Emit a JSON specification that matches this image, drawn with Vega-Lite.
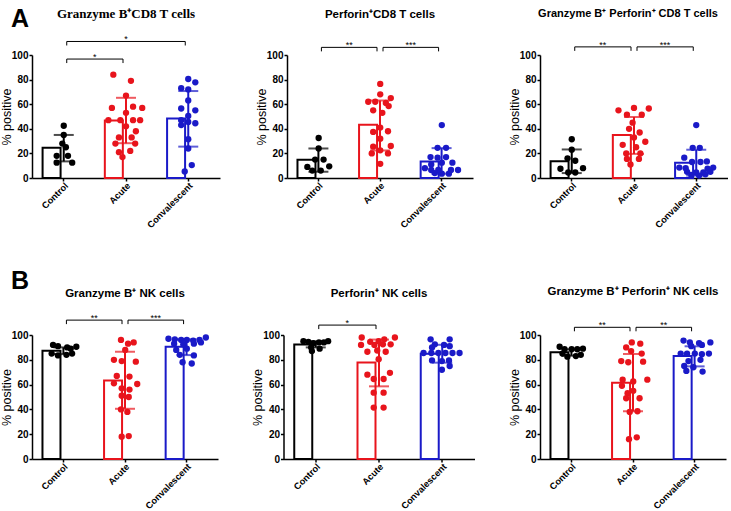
{
  "$schema": "https://vega.github.io/schema/vega-lite/v6.json",
  "padding": {"left": 0, "top": 6, "right": 0, "bottom": 0},
  "spacing": 38,
  "config": {
    "view": {"stroke": null},
    "font": "Liberation Sans",
    "axis": {"grid": false, "domainColor": "black", "domainWidth": 1.5, "tickColor": "black", "tickWidth": 1.5, "tickSize": 3, "labelColor": "black", "labelFont": "Liberation Sans Narrow, Liberation Sans", "labelFontWeight": "bold", "labelFontSize": 10, "labelPadding": 1, "titleColor": "black", "titleFont": "Liberation Sans", "titleFontWeight": "normal", "titleFontSize": 12.5, "titlePadding": 1},
    "axisX": {"labelAngle": -45, "labelFontSize": 9.2, "labelPadding": 0},
    "axisY": {"tickCount": 6, "labelOverlap": false, "minExtent": 18, "maxExtent": 18},
    "title": {"font": "Liberation Sans", "fontWeight": "bold", "fontSize": 11.5, "color": "black", "anchor": "middle", "offset": 14, "frame": "group"}
  },
  "datasets": {
    "sum": [
      {"p": 1, "g": "Control", "m": 24.5, "lo": 13.5, "hi": 35},
      {"p": 1, "g": "Acute", "m": 46.7, "lo": 28.3, "hi": 65.2},
      {"p": 1, "g": "Convalescent", "m": 48.4, "lo": 25.5, "hi": 70.7},
      {"p": 2, "g": "Control", "m": 14.9, "lo": 5.1, "hi": 24},
      {"p": 2, "g": "Acute", "m": 43.2, "lo": 22.4, "hi": 63},
      {"p": 2, "g": "Convalescent", "m": 13.5, "lo": 3.5, "hi": 24.3},
      {"p": 3, "g": "Control", "m": 13.6, "lo": 4, "hi": 23.2},
      {"p": 3, "g": "Acute", "m": 35, "lo": 19.6, "hi": 49.6},
      {"p": 3, "g": "Convalescent", "m": 12.5, "lo": 2, "hi": 23},
      {"p": 4, "g": "Control", "m": 87.3, "lo": 84.6, "hi": 90},
      {"p": 4, "g": "Acute", "m": 63.3, "lo": 40.5, "hi": 86.5},
      {"p": 4, "g": "Convalescent", "m": 90.5, "lo": 83.8, "hi": 96.5},
      {"p": 5, "g": "Control", "m": 92.3, "lo": 90, "hi": 94.8},
      {"p": 5, "g": "Acute", "m": 77.8, "lo": 58.6, "hi": 96.3},
      {"p": 5, "g": "Convalescent", "m": 84.8, "lo": 77.7, "hi": 92.1},
      {"p": 6, "g": "Control", "m": 86, "lo": 83.3, "hi": 88.5},
      {"p": 6, "g": "Acute", "m": 61.5, "lo": 38.5, "hi": 84.7},
      {"p": 6, "g": "Convalescent", "m": 83, "lo": 74.7, "hi": 90.9}
    ],
    "br": [
      {"p": 1, "a": "Control", "b": "Acute", "y": 96.7, "s": "*", "m": "Control", "k": 1},
      {"p": 1, "a": "Control", "b": "Convalescent", "y": 111, "s": "*", "m": "Acute", "k": 0},
      {"p": 2, "a": "Control", "b": "Acute", "y": 106.2, "s": "**", "m": "Control", "k": 1},
      {"p": 2, "a": "Acute", "b": "Convalescent", "y": 106.2, "s": "***", "m": "Acute", "k": 1},
      {"p": 3, "a": "Control", "b": "Acute", "y": 106.6, "s": "**", "m": "Control", "k": 1},
      {"p": 3, "a": "Acute", "b": "Convalescent", "y": 106.6, "s": "***", "m": "Acute", "k": 1},
      {"p": 4, "a": "Control", "b": "Acute", "y": 112, "s": "**", "m": "Control", "k": 1},
      {"p": 4, "a": "Acute", "b": "Convalescent", "y": 112, "s": "***", "m": "Acute", "k": 1},
      {"p": 5, "a": "Control", "b": "Acute", "y": 108, "s": "*", "m": "Control", "k": 1},
      {"p": 6, "a": "Control", "b": "Acute", "y": 106.2, "s": "**", "m": "Control", "k": 1},
      {"p": 6, "a": "Acute", "b": "Convalescent", "y": 106.2, "s": "**", "m": "Acute", "k": 1}
    ],
    "pts": [
      {"p":1,"g":"Control","v":42.5,"c":0},{"p":1,"g":"Control","v":35,"c":0},{"p":1,"g":"Control","v":28,"c":-0.2},{"p":1,"g":"Control","v":25,"c":0.3},{"p":1,"g":"Control","v":18,"c":-1},{"p":1,"g":"Control","v":18,"c":0.6},{"p":1,"g":"Control","v":12.5,"c":-1},{"p":1,"g":"Control","v":12.5,"c":1.2},
      {"p":1,"g":"Acute","v":84,"c":-1.8},{"p":1,"g":"Acute","v":79,"c":0.7},{"p":1,"g":"Acute","v":67,"c":0},{"p":1,"g":"Acute","v":57,"c":-2},{"p":1,"g":"Acute","v":58,"c":1},{"p":1,"g":"Acute","v":57,"c":2.3},{"p":1,"g":"Acute","v":53,"c":0},{"p":1,"g":"Acute","v":47,"c":-2.5},{"p":1,"g":"Acute","v":47,"c":-0.8},{"p":1,"g":"Acute","v":47,"c":1},{"p":1,"g":"Acute","v":47,"c":2},{"p":1,"g":"Acute","v":42,"c":0},{"p":1,"g":"Acute","v":38,"c":1.4},{"p":1,"g":"Acute","v":33,"c":-1},{"p":1,"g":"Acute","v":33,"c":0.8},{"p":1,"g":"Acute","v":28,"c":-1.5},{"p":1,"g":"Acute","v":28,"c":1.3},{"p":1,"g":"Acute","v":22,"c":0.6},{"p":1,"g":"Acute","v":21,"c":-1},{"p":1,"g":"Acute","v":17,"c":-0.5},
      {"p":1,"g":"Convalescent","v":80.5,"c":0},{"p":1,"g":"Convalescent","v":77.8,"c":1},{"p":1,"g":"Convalescent","v":73,"c":-1},{"p":1,"g":"Convalescent","v":72,"c":0},{"p":1,"g":"Convalescent","v":63,"c":0},{"p":1,"g":"Convalescent","v":56.5,"c":-1},{"p":1,"g":"Convalescent","v":55,"c":1},{"p":1,"g":"Convalescent","v":50.5,"c":0},{"p":1,"g":"Convalescent","v":47,"c":-1},{"p":1,"g":"Convalescent","v":43,"c":-1},{"p":1,"g":"Convalescent","v":45.5,"c":0},{"p":1,"g":"Convalescent","v":44.5,"c":1},{"p":1,"g":"Convalescent","v":31.5,"c":0},{"p":1,"g":"Convalescent","v":24,"c":0},{"p":1,"g":"Convalescent","v":10.5,"c":0.5},{"p":1,"g":"Convalescent","v":5.3,"c":-0.5},
      {"p":2,"g":"Control","v":32.5,"c":0},{"p":2,"g":"Control","v":24,"c":0},{"p":2,"g":"Control","v":15,"c":-0.5},{"p":2,"g":"Control","v":15,"c":0.7},{"p":2,"g":"Control","v":9,"c":-1.6},{"p":2,"g":"Control","v":9.5,"c":1.5},{"p":2,"g":"Control","v":6,"c":-0.9},{"p":2,"g":"Control","v":6,"c":0.3},
      {"p":2,"g":"Acute","v":76.5,"c":0},{"p":2,"g":"Acute","v":68,"c":0},{"p":2,"g":"Acute","v":65,"c":1.5},{"p":2,"g":"Acute","v":62,"c":-1.7},{"p":2,"g":"Acute","v":62,"c":-0.7},{"p":2,"g":"Acute","v":61,"c":0.8},{"p":2,"g":"Acute","v":58.5,"c":1.2},{"p":2,"g":"Acute","v":55,"c":-1},{"p":2,"g":"Acute","v":53,"c":0.3},{"p":2,"g":"Acute","v":41,"c":0},{"p":2,"g":"Acute","v":37.5,"c":-1},{"p":2,"g":"Acute","v":38,"c":1.1},{"p":2,"g":"Acute","v":32,"c":0},{"p":2,"g":"Acute","v":25.5,"c":-1},{"p":2,"g":"Acute","v":26,"c":1.5},{"p":2,"g":"Acute","v":22.5,"c":0},{"p":2,"g":"Acute","v":20,"c":-1.2},{"p":2,"g":"Acute","v":20,"c":1.1},{"p":2,"g":"Acute","v":11.5,"c":0},
      {"p":2,"g":"Convalescent","v":43,"c":0},{"p":2,"g":"Convalescent","v":24.5,"c":-0.6},{"p":2,"g":"Convalescent","v":24.5,"c":0.6},{"p":2,"g":"Convalescent","v":17,"c":-1.6},{"p":2,"g":"Convalescent","v":16.5,"c":-0.6},{"p":2,"g":"Convalescent","v":17,"c":0.6},{"p":2,"g":"Convalescent","v":12.5,"c":0},{"p":2,"g":"Convalescent","v":12.5,"c":1.5},{"p":2,"g":"Convalescent","v":8,"c":-2.4},{"p":2,"g":"Convalescent","v":6.5,"c":-1.5},{"p":2,"g":"Convalescent","v":6.5,"c":-0.5},{"p":2,"g":"Convalescent","v":6.5,"c":1.3},{"p":2,"g":"Convalescent","v":6.5,"c":2.3},{"p":2,"g":"Convalescent","v":4,"c":-1},{"p":2,"g":"Convalescent","v":3.5,"c":0},{"p":2,"g":"Convalescent","v":3.5,"c":1},{"p":2,"g":"Convalescent","v":11,"c":-1.5},
      {"p":3,"g":"Control","v":31.5,"c":0},{"p":3,"g":"Control","v":23,"c":0},{"p":3,"g":"Control","v":16,"c":-0.6},{"p":3,"g":"Control","v":14,"c":0.5},{"p":3,"g":"Control","v":7.5,"c":-1.6},{"p":3,"g":"Control","v":8,"c":1.6},{"p":3,"g":"Control","v":4.5,"c":-0.5},{"p":3,"g":"Control","v":4.5,"c":0.5},
      {"p":3,"g":"Acute","v":57,"c":0},{"p":3,"g":"Acute","v":55,"c":-2.2},{"p":3,"g":"Acute","v":56.5,"c":2.1},{"p":3,"g":"Acute","v":51.5,"c":-1},{"p":3,"g":"Acute","v":51.5,"c":1.1},{"p":3,"g":"Acute","v":45,"c":-0.2},{"p":3,"g":"Acute","v":40,"c":-0.7},{"p":3,"g":"Acute","v":37,"c":0.8},{"p":3,"g":"Acute","v":33,"c":0},{"p":3,"g":"Acute","v":27,"c":-1.6},{"p":3,"g":"Acute","v":29.5,"c":1.6},{"p":3,"g":"Acute","v":25,"c":0.3},{"p":3,"g":"Acute","v":20,"c":-1.1},{"p":3,"g":"Acute","v":20,"c":0.9},{"p":3,"g":"Acute","v":15.5,"c":-1},{"p":3,"g":"Acute","v":15.5,"c":0.7},{"p":3,"g":"Acute","v":11,"c":-0.5},
      {"p":3,"g":"Convalescent","v":43,"c":0},{"p":3,"g":"Convalescent","v":24.5,"c":-0.5},{"p":3,"g":"Convalescent","v":24.5,"c":0.5},{"p":3,"g":"Convalescent","v":16.5,"c":-1.7},{"p":3,"g":"Convalescent","v":13,"c":-0.6},{"p":3,"g":"Convalescent","v":13,"c":0.6},{"p":3,"g":"Convalescent","v":13.5,"c":1.5},{"p":3,"g":"Convalescent","v":8.5,"c":-2.4},{"p":3,"g":"Convalescent","v":8,"c":-1.5},{"p":3,"g":"Convalescent","v":8.5,"c":2.4},{"p":3,"g":"Convalescent","v":7.5,"c":1.6},{"p":3,"g":"Convalescent","v":5,"c":-1.3},{"p":3,"g":"Convalescent","v":4.5,"c":0},{"p":3,"g":"Convalescent","v":4.5,"c":1},{"p":3,"g":"Convalescent","v":5,"c":2},{"p":3,"g":"Convalescent","v":2.5,"c":-0.7},{"p":3,"g":"Convalescent","v":2,"c":0.4},{"p":3,"g":"Convalescent","v":3,"c":1.3},
      {"p":4,"g":"Control","v":92,"c":-1.5},{"p":4,"g":"Control","v":91,"c":-0.8},{"p":4,"g":"Control","v":90,"c":0.5},{"p":4,"g":"Control","v":89,"c":1},{"p":4,"g":"Control","v":90.5,"c":1.8},{"p":4,"g":"Control","v":85,"c":-1.7},{"p":4,"g":"Control","v":83.5,"c":-0.8},{"p":4,"g":"Control","v":84,"c":0.4},{"p":4,"g":"Control","v":85,"c":1.2},
      {"p":4,"g":"Acute","v":96,"c":-0.6},{"p":4,"g":"Acute","v":94,"c":1.2},{"p":4,"g":"Acute","v":93,"c":0.4},{"p":4,"g":"Acute","v":88,"c":0},{"p":4,"g":"Acute","v":80,"c":-1.6},{"p":4,"g":"Acute","v":79,"c":-0.5},{"p":4,"g":"Acute","v":78.5,"c":1.5},{"p":4,"g":"Acute","v":67,"c":-1.2},{"p":4,"g":"Acute","v":66.5,"c":0.6},{"p":4,"g":"Acute","v":61,"c":-1.6},{"p":4,"g":"Acute","v":60.5,"c":1.7},{"p":4,"g":"Acute","v":57,"c":-0.5},{"p":4,"g":"Acute","v":56,"c":0.6},{"p":4,"g":"Acute","v":51,"c":-0.5},{"p":4,"g":"Acute","v":50,"c":0.5},{"p":4,"g":"Acute","v":38,"c":0.3},{"p":4,"g":"Acute","v":40,"c":-0.6},{"p":4,"g":"Acute","v":18,"c":-0.5},{"p":4,"g":"Acute","v":18.5,"c":0.5},
      {"p":4,"g":"Convalescent","v":97,"c":-2.6},{"p":4,"g":"Convalescent","v":96.5,"c":-1.7},{"p":4,"g":"Convalescent","v":96,"c":-0.8},{"p":4,"g":"Convalescent","v":96,"c":0},{"p":4,"g":"Convalescent","v":95.5,"c":0.9},{"p":4,"g":"Convalescent","v":96,"c":1.8},{"p":4,"g":"Convalescent","v":98,"c":2.7},{"p":4,"g":"Convalescent","v":93,"c":-1.8},{"p":4,"g":"Convalescent","v":92.5,"c":-0.5},{"p":4,"g":"Convalescent","v":93,"c":1},{"p":4,"g":"Convalescent","v":94,"c":2},{"p":4,"g":"Convalescent","v":89,"c":0},{"p":4,"g":"Convalescent","v":84,"c":-1},{"p":4,"g":"Convalescent","v":83.5,"c":1},{"p":4,"g":"Convalescent","v":78,"c":-0.6},{"p":4,"g":"Convalescent","v":77,"c":0.7},{"p":4,"g":"Convalescent","v":88,"c":-1.5},
      {"p":5,"g":"Control","v":95,"c":-1.7},{"p":5,"g":"Control","v":94.5,"c":-1},{"p":5,"g":"Control","v":93.5,"c":-0.3},{"p":5,"g":"Control","v":94,"c":0.5},{"p":5,"g":"Control","v":94,"c":1.2},{"p":5,"g":"Control","v":95,"c":1.8},{"p":5,"g":"Control","v":90,"c":-0.6},{"p":5,"g":"Control","v":89,"c":0.6},{"p":5,"g":"Control","v":87,"c":-0.5},
      {"p":5,"g":"Acute","v":98,"c":-2.4},{"p":5,"g":"Acute","v":96.5,"c":0.8},{"p":5,"g":"Acute","v":98,"c":2.3},{"p":5,"g":"Acute","v":94.5,"c":-1.2},{"p":5,"g":"Acute","v":95,"c":0},{"p":5,"g":"Acute","v":92,"c":-2.5},{"p":5,"g":"Acute","v":92.5,"c":1.7},{"p":5,"g":"Acute","v":92,"c":-0.6},{"p":5,"g":"Acute","v":92.5,"c":0.6},{"p":5,"g":"Acute","v":86.5,"c":-1.6},{"p":5,"g":"Acute","v":87.5,"c":-0.2},{"p":5,"g":"Acute","v":86.5,"c":1},{"p":5,"g":"Acute","v":80.5,"c":0},{"p":5,"g":"Acute","v":68,"c":-1.6},{"p":5,"g":"Acute","v":69.5,"c":1.6},{"p":5,"g":"Acute","v":64.5,"c":-0.7},{"p":5,"g":"Acute","v":64.5,"c":0.7},{"p":5,"g":"Acute","v":53.5,"c":-0.7},{"p":5,"g":"Acute","v":53.5,"c":0.7},{"p":5,"g":"Acute","v":41.5,"c":-0.7},{"p":5,"g":"Acute","v":41.5,"c":0.7},
      {"p":5,"g":"Convalescent","v":96.5,"c":-1.6},{"p":5,"g":"Convalescent","v":96.5,"c":1.1},{"p":5,"g":"Convalescent","v":92.5,"c":-1},{"p":5,"g":"Convalescent","v":92,"c":0.3},{"p":5,"g":"Convalescent","v":91,"c":1.1},{"p":5,"g":"Convalescent","v":90,"c":-1.4},{"p":5,"g":"Convalescent","v":85.5,"c":-2.6},{"p":5,"g":"Convalescent","v":85.5,"c":-1.5},{"p":5,"g":"Convalescent","v":85.5,"c":-0.5},{"p":5,"g":"Convalescent","v":85.5,"c":0.5},{"p":5,"g":"Convalescent","v":85.5,"c":1.5},{"p":5,"g":"Convalescent","v":85.5,"c":2.5},{"p":5,"g":"Convalescent","v":79.5,"c":-1.4},{"p":5,"g":"Convalescent","v":79,"c":0},{"p":5,"g":"Convalescent","v":79.5,"c":1},{"p":5,"g":"Convalescent","v":75,"c":1.1},{"p":5,"g":"Convalescent","v":72,"c":0},
      {"p":6,"g":"Control","v":90.5,"c":-1.7},{"p":6,"g":"Control","v":88.5,"c":-1},{"p":6,"g":"Control","v":88.5,"c":0},{"p":6,"g":"Control","v":88.5,"c":0.8},{"p":6,"g":"Control","v":89,"c":1.6},{"p":6,"g":"Control","v":85,"c":-1.3},{"p":6,"g":"Control","v":82.5,"c":-0.6},{"p":6,"g":"Control","v":83,"c":0.6},{"p":6,"g":"Control","v":84,"c":1.3},
      {"p":6,"g":"Acute","v":94,"c":-0.2},{"p":6,"g":"Acute","v":93,"c":1},{"p":6,"g":"Acute","v":90,"c":-1},{"p":6,"g":"Acute","v":87,"c":-0.3},{"p":6,"g":"Acute","v":85,"c":1.2},{"p":6,"g":"Acute","v":79,"c":-1.7},{"p":6,"g":"Acute","v":78,"c":-0.7},{"p":6,"g":"Acute","v":78.5,"c":1.4},{"p":6,"g":"Acute","v":64,"c":-1.5},{"p":6,"g":"Acute","v":62.5,"c":0},{"p":6,"g":"Acute","v":64,"c":2},{"p":6,"g":"Acute","v":59,"c":-1.6},{"p":6,"g":"Acute","v":55,"c":0},{"p":6,"g":"Acute","v":53,"c":-0.8},{"p":6,"g":"Acute","v":49,"c":-1},{"p":6,"g":"Acute","v":49,"c":0.9},{"p":6,"g":"Acute","v":38,"c":-0.5},{"p":6,"g":"Acute","v":38.5,"c":0.6},{"p":6,"g":"Acute","v":16,"c":-0.6},{"p":6,"g":"Acute","v":17.5,"c":0.5},
      {"p":6,"g":"Convalescent","v":95.5,"c":-1.6},{"p":6,"g":"Convalescent","v":94,"c":-0.7},{"p":6,"g":"Convalescent","v":93.5,"c":0.6},{"p":6,"g":"Convalescent","v":94,"c":2.2},{"p":6,"g":"Convalescent","v":91,"c":-0.5},{"p":6,"g":"Convalescent","v":92,"c":1},{"p":6,"g":"Convalescent","v":85,"c":-2},{"p":6,"g":"Convalescent","v":85,"c":-1.1},{"p":6,"g":"Convalescent","v":85,"c":0},{"p":6,"g":"Convalescent","v":84.5,"c":1},{"p":6,"g":"Convalescent","v":85,"c":2},{"p":6,"g":"Convalescent","v":79,"c":-0.9},{"p":6,"g":"Convalescent","v":80,"c":0.8},{"p":6,"g":"Convalescent","v":75,"c":-1.5},{"p":6,"g":"Convalescent","v":74,"c":-0.2},{"p":6,"g":"Convalescent","v":71,"c":-1.2},{"p":6,"g":"Convalescent","v":70.5,"c":1.1}
    ]
  },
  "vconcat": [
    {
      "title": {"text": "A", "anchor": "start", "fontSize": 25, "fontWeight": "bold", "offset": -24, "dx": 11, "frame": "bounds"},
      "spacing": 35,
      "hconcat": [
        {
          "width": 188, "height": 123,
          "title": {"text": "Granzyme B⁺CD8 T cells", "font": "Liberation Serif", "fontSize": 13, "offset": 14},
          "encoding": {"x": {"field": "g", "type": "nominal", "scale": {"domain": ["Control", "Acute", "Convalescent"], "paddingInner": 0.32, "paddingOuter": 0.17}, "axis": {"title": null}}},
          "layer": [
            {"data": {"name": "sum"}, "transform": [{"filter": "datum.p==1"}], "mark": {"type": "bar", "fill": "white", "strokeWidth": 2}, "encoding": {"y": {"field": "m", "type": "quantitative", "scale": {"domain": [0, 100], "nice": false}, "axis": {"title": "% positive", "values": [0, 20, 40, 60, 80, 100]}}, "stroke": {"field": "g", "type": "nominal", "scale": {"domain": ["Control", "Acute", "Convalescent"], "range": ["#000000", "#e8141c", "#1a1ac8"]}, "legend": null}}},
            {"data": {"name": "pts"}, "transform": [{"filter": "datum.p==1"}], "mark": {"type": "circle", "size": 40, "opacity": 1}, "encoding": {"xOffset": {"field": "c", "type": "quantitative", "scale": {"domain": [-3, 3], "nice": false, "zero": false}}, "y": {"field": "v", "type": "quantitative"}, "color": {"field": "g", "type": "nominal", "scale": {"domain": ["Control", "Acute", "Convalescent"], "range": ["#000000", "#e8141c", "#1a1ac8"]}, "legend": null}}},
            {"data": {"name": "sum"}, "transform": [{"filter": "datum.p==1"}], "mark": {"type": "rule", "strokeWidth": 2}, "encoding": {"y": {"field": "lo", "type": "quantitative"}, "y2": {"field": "hi"}, "color": {"field": "g", "type": "nominal", "legend": null}}},
            {"data": {"name": "sum"}, "transform": [{"filter": "datum.p==1"}], "mark": {"type": "tick", "thickness": 2, "size": 20}, "encoding": {"y": {"field": "lo", "type": "quantitative"}, "color": {"field": "g", "type": "nominal", "legend": null}}},
            {"data": {"name": "sum"}, "transform": [{"filter": "datum.p==1"}], "mark": {"type": "tick", "thickness": 2, "size": 20}, "encoding": {"y": {"field": "hi", "type": "quantitative"}, "color": {"field": "g", "type": "nominal", "legend": null}}},
            {"data": {"name": "br"}, "transform": [{"filter": "datum.p==1"}], "mark": {"type": "rule", "color": "black", "strokeWidth": 1, "xOffset": 3, "x2Offset": -3}, "encoding": {"x": {"field": "a", "type": "nominal"}, "x2": {"field": "b"}, "y": {"field": "y", "type": "quantitative"}}},
            {"data": {"name": "br"}, "transform": [{"filter": "datum.p==1"}], "mark": {"type": "rule", "color": "black", "strokeWidth": 1, "xOffset": 3, "y2Offset": 4}, "encoding": {"x": {"field": "a", "type": "nominal"}, "y": {"field": "y", "type": "quantitative"}, "y2": {"field": "y"}}},
            {"data": {"name": "br"}, "transform": [{"filter": "datum.p==1"}], "mark": {"type": "rule", "color": "black", "strokeWidth": 1, "xOffset": -3, "y2Offset": 4}, "encoding": {"x": {"field": "b", "type": "nominal"}, "y": {"field": "y", "type": "quantitative"}, "y2": {"field": "y"}}},
            {"data": {"name": "br"}, "transform": [{"filter": "datum.p==1 && datum.k==1"}], "mark": {"type": "text", "fontSize": 9, "baseline": "alphabetic", "dy": 1, "color": "black"}, "encoding": {"x": {"field": "m", "type": "nominal", "bandPosition": 1.235}, "y": {"field": "y", "type": "quantitative"}, "text": {"field": "s"}}},
            {"data": {"name": "br"}, "transform": [{"filter": "datum.p==1 && datum.k==0"}], "mark": {"type": "text", "fontSize": 9, "baseline": "alphabetic", "dy": 1, "color": "black"}, "encoding": {"x": {"field": "m", "type": "nominal"}, "y": {"field": "y", "type": "quantitative"}, "text": {"field": "s"}}}
          ]
        },
        {
          "width": 186, "height": 123,
          "title": {"text": "Perforin⁺CD8 T cells", "offset": 21},
          "encoding": {"x": {"field": "g", "type": "nominal", "scale": {"domain": ["Control", "Acute", "Convalescent"], "paddingInner": 0.32, "paddingOuter": 0.17}, "axis": {"title": null}}},
          "layer": [
            {"data": {"name": "sum"}, "transform": [{"filter": "datum.p==2"}], "mark": {"type": "bar", "fill": "white", "strokeWidth": 2}, "encoding": {"y": {"field": "m", "type": "quantitative", "scale": {"domain": [0, 100], "nice": false}, "axis": {"title": "% positive", "values": [0, 20, 40, 60, 80, 100]}}, "stroke": {"field": "g", "type": "nominal", "scale": {"domain": ["Control", "Acute", "Convalescent"], "range": ["#000000", "#e8141c", "#1a1ac8"]}, "legend": null}}},
            {"data": {"name": "pts"}, "transform": [{"filter": "datum.p==2"}], "mark": {"type": "circle", "size": 40, "opacity": 1}, "encoding": {"xOffset": {"field": "c", "type": "quantitative", "scale": {"domain": [-3, 3], "nice": false, "zero": false}}, "y": {"field": "v", "type": "quantitative"}, "color": {"field": "g", "type": "nominal", "scale": {"domain": ["Control", "Acute", "Convalescent"], "range": ["#000000", "#e8141c", "#1a1ac8"]}, "legend": null}}},
            {"data": {"name": "sum"}, "transform": [{"filter": "datum.p==2"}], "mark": {"type": "rule", "strokeWidth": 2}, "encoding": {"y": {"field": "lo", "type": "quantitative"}, "y2": {"field": "hi"}, "color": {"field": "g", "type": "nominal", "legend": null}}},
            {"data": {"name": "sum"}, "transform": [{"filter": "datum.p==2"}], "mark": {"type": "tick", "thickness": 2, "size": 20}, "encoding": {"y": {"field": "lo", "type": "quantitative"}, "color": {"field": "g", "type": "nominal", "legend": null}}},
            {"data": {"name": "sum"}, "transform": [{"filter": "datum.p==2"}], "mark": {"type": "tick", "thickness": 2, "size": 20}, "encoding": {"y": {"field": "hi", "type": "quantitative"}, "color": {"field": "g", "type": "nominal", "legend": null}}},
            {"data": {"name": "br"}, "transform": [{"filter": "datum.p==2"}], "mark": {"type": "rule", "color": "black", "strokeWidth": 1, "xOffset": 3, "x2Offset": -3}, "encoding": {"x": {"field": "a", "type": "nominal"}, "x2": {"field": "b"}, "y": {"field": "y", "type": "quantitative"}}},
            {"data": {"name": "br"}, "transform": [{"filter": "datum.p==2"}], "mark": {"type": "rule", "color": "black", "strokeWidth": 1, "xOffset": 3, "y2Offset": 4}, "encoding": {"x": {"field": "a", "type": "nominal"}, "y": {"field": "y", "type": "quantitative"}, "y2": {"field": "y"}}},
            {"data": {"name": "br"}, "transform": [{"filter": "datum.p==2"}], "mark": {"type": "rule", "color": "black", "strokeWidth": 1, "xOffset": -3, "y2Offset": 4}, "encoding": {"x": {"field": "b", "type": "nominal"}, "y": {"field": "y", "type": "quantitative"}, "y2": {"field": "y"}}},
            {"data": {"name": "br"}, "transform": [{"filter": "datum.p==2 && datum.k==1"}], "mark": {"type": "text", "fontSize": 9, "baseline": "alphabetic", "dy": 1, "color": "black"}, "encoding": {"x": {"field": "m", "type": "nominal", "bandPosition": 1.235}, "y": {"field": "y", "type": "quantitative"}, "text": {"field": "s"}}}
          ]
        },
        {
          "width": 188, "height": 123,
          "title": {"text": "Granzyme B⁺ Perforin⁺ CD8 T cells", "offset": 22, "fontSize": 11, "dx": -6},
          "encoding": {"x": {"field": "g", "type": "nominal", "scale": {"domain": ["Control", "Acute", "Convalescent"], "paddingInner": 0.32, "paddingOuter": 0.17}, "axis": {"title": null}}},
          "layer": [
            {"data": {"name": "sum"}, "transform": [{"filter": "datum.p==3"}], "mark": {"type": "bar", "fill": "white", "strokeWidth": 2}, "encoding": {"y": {"field": "m", "type": "quantitative", "scale": {"domain": [0, 100], "nice": false}, "axis": {"title": "% positive", "values": [0, 20, 40, 60, 80, 100]}}, "stroke": {"field": "g", "type": "nominal", "scale": {"domain": ["Control", "Acute", "Convalescent"], "range": ["#000000", "#e8141c", "#1a1ac8"]}, "legend": null}}},
            {"data": {"name": "pts"}, "transform": [{"filter": "datum.p==3"}], "mark": {"type": "circle", "size": 40, "opacity": 1}, "encoding": {"xOffset": {"field": "c", "type": "quantitative", "scale": {"domain": [-3, 3], "nice": false, "zero": false}}, "y": {"field": "v", "type": "quantitative"}, "color": {"field": "g", "type": "nominal", "scale": {"domain": ["Control", "Acute", "Convalescent"], "range": ["#000000", "#e8141c", "#1a1ac8"]}, "legend": null}}},
            {"data": {"name": "sum"}, "transform": [{"filter": "datum.p==3"}], "mark": {"type": "rule", "strokeWidth": 2}, "encoding": {"y": {"field": "lo", "type": "quantitative"}, "y2": {"field": "hi"}, "color": {"field": "g", "type": "nominal", "legend": null}}},
            {"data": {"name": "sum"}, "transform": [{"filter": "datum.p==3"}], "mark": {"type": "tick", "thickness": 2, "size": 20}, "encoding": {"y": {"field": "lo", "type": "quantitative"}, "color": {"field": "g", "type": "nominal", "legend": null}}},
            {"data": {"name": "sum"}, "transform": [{"filter": "datum.p==3"}], "mark": {"type": "tick", "thickness": 2, "size": 20}, "encoding": {"y": {"field": "hi", "type": "quantitative"}, "color": {"field": "g", "type": "nominal", "legend": null}}},
            {"data": {"name": "br"}, "transform": [{"filter": "datum.p==3"}], "mark": {"type": "rule", "color": "black", "strokeWidth": 1, "xOffset": 3, "x2Offset": -3}, "encoding": {"x": {"field": "a", "type": "nominal"}, "x2": {"field": "b"}, "y": {"field": "y", "type": "quantitative"}}},
            {"data": {"name": "br"}, "transform": [{"filter": "datum.p==3"}], "mark": {"type": "rule", "color": "black", "strokeWidth": 1, "xOffset": 3, "y2Offset": 4}, "encoding": {"x": {"field": "a", "type": "nominal"}, "y": {"field": "y", "type": "quantitative"}, "y2": {"field": "y"}}},
            {"data": {"name": "br"}, "transform": [{"filter": "datum.p==3"}], "mark": {"type": "rule", "color": "black", "strokeWidth": 1, "xOffset": -3, "y2Offset": 4}, "encoding": {"x": {"field": "b", "type": "nominal"}, "y": {"field": "y", "type": "quantitative"}, "y2": {"field": "y"}}},
            {"data": {"name": "br"}, "transform": [{"filter": "datum.p==3 && datum.k==1"}], "mark": {"type": "text", "fontSize": 9, "baseline": "alphabetic", "dy": 1, "color": "black"}, "encoding": {"x": {"field": "m", "type": "nominal", "bandPosition": 1.235}, "y": {"field": "y", "type": "quantitative"}, "text": {"field": "s"}}}
          ]
        }
      ]
    },
    {
      "title": {"text": "B", "anchor": "start", "fontSize": 25, "fontWeight": "bold", "offset": -8, "dx": 11, "frame": "bounds"},
      "spacing": 33.5,
      "hconcat": [
        {
          "width": 186, "height": 124,
          "title": {"text": "Granzyme B⁺ NK cells", "offset": 15},
          "encoding": {"x": {"field": "g", "type": "nominal", "scale": {"domain": ["Control", "Acute", "Convalescent"], "paddingInner": 0.32, "paddingOuter": 0.17}, "axis": {"title": null}}},
          "layer": [
            {"data": {"name": "sum"}, "transform": [{"filter": "datum.p==4"}], "mark": {"type": "bar", "fill": "white", "strokeWidth": 2}, "encoding": {"y": {"field": "m", "type": "quantitative", "scale": {"domain": [0, 100], "nice": false}, "axis": {"title": "% positive", "values": [0, 20, 40, 60, 80, 100]}}, "stroke": {"field": "g", "type": "nominal", "scale": {"domain": ["Control", "Acute", "Convalescent"], "range": ["#000000", "#e8141c", "#1a1ac8"]}, "legend": null}}},
            {"data": {"name": "pts"}, "transform": [{"filter": "datum.p==4"}], "mark": {"type": "circle", "size": 40, "opacity": 1}, "encoding": {"xOffset": {"field": "c", "type": "quantitative", "scale": {"domain": [-3, 3], "nice": false, "zero": false}}, "y": {"field": "v", "type": "quantitative"}, "color": {"field": "g", "type": "nominal", "scale": {"domain": ["Control", "Acute", "Convalescent"], "range": ["#000000", "#e8141c", "#1a1ac8"]}, "legend": null}}},
            {"data": {"name": "sum"}, "transform": [{"filter": "datum.p==4"}], "mark": {"type": "rule", "strokeWidth": 2}, "encoding": {"y": {"field": "lo", "type": "quantitative"}, "y2": {"field": "hi"}, "color": {"field": "g", "type": "nominal", "legend": null}}},
            {"data": {"name": "sum"}, "transform": [{"filter": "datum.p==4"}], "mark": {"type": "tick", "thickness": 2, "size": 20}, "encoding": {"y": {"field": "lo", "type": "quantitative"}, "color": {"field": "g", "type": "nominal", "legend": null}}},
            {"data": {"name": "sum"}, "transform": [{"filter": "datum.p==4"}], "mark": {"type": "tick", "thickness": 2, "size": 20}, "encoding": {"y": {"field": "hi", "type": "quantitative"}, "color": {"field": "g", "type": "nominal", "legend": null}}},
            {"data": {"name": "br"}, "transform": [{"filter": "datum.p==4"}], "mark": {"type": "rule", "color": "black", "strokeWidth": 1, "xOffset": 3, "x2Offset": -3}, "encoding": {"x": {"field": "a", "type": "nominal"}, "x2": {"field": "b"}, "y": {"field": "y", "type": "quantitative"}}},
            {"data": {"name": "br"}, "transform": [{"filter": "datum.p==4"}], "mark": {"type": "rule", "color": "black", "strokeWidth": 1, "xOffset": 3, "y2Offset": 4}, "encoding": {"x": {"field": "a", "type": "nominal"}, "y": {"field": "y", "type": "quantitative"}, "y2": {"field": "y"}}},
            {"data": {"name": "br"}, "transform": [{"filter": "datum.p==4"}], "mark": {"type": "rule", "color": "black", "strokeWidth": 1, "xOffset": -3, "y2Offset": 4}, "encoding": {"x": {"field": "b", "type": "nominal"}, "y": {"field": "y", "type": "quantitative"}, "y2": {"field": "y"}}},
            {"data": {"name": "br"}, "transform": [{"filter": "datum.p==4 && datum.k==1"}], "mark": {"type": "text", "fontSize": 9, "baseline": "alphabetic", "dy": 1, "color": "black"}, "encoding": {"x": {"field": "m", "type": "nominal", "bandPosition": 1.235}, "y": {"field": "y", "type": "quantitative"}, "text": {"field": "s"}}}
          ]
        },
        {
          "width": 191, "height": 124,
          "title": {"text": "Perforin⁺ NK cells", "offset": 20},
          "encoding": {"x": {"field": "g", "type": "nominal", "scale": {"domain": ["Control", "Acute", "Convalescent"], "paddingInner": 0.32, "paddingOuter": 0.17}, "axis": {"title": null}}},
          "layer": [
            {"data": {"name": "sum"}, "transform": [{"filter": "datum.p==5"}], "mark": {"type": "bar", "fill": "white", "strokeWidth": 2}, "encoding": {"y": {"field": "m", "type": "quantitative", "scale": {"domain": [0, 100], "nice": false}, "axis": {"title": "% positive", "values": [0, 20, 40, 60, 80, 100]}}, "stroke": {"field": "g", "type": "nominal", "scale": {"domain": ["Control", "Acute", "Convalescent"], "range": ["#000000", "#e8141c", "#1a1ac8"]}, "legend": null}}},
            {"data": {"name": "pts"}, "transform": [{"filter": "datum.p==5"}], "mark": {"type": "circle", "size": 40, "opacity": 1}, "encoding": {"xOffset": {"field": "c", "type": "quantitative", "scale": {"domain": [-3, 3], "nice": false, "zero": false}}, "y": {"field": "v", "type": "quantitative"}, "color": {"field": "g", "type": "nominal", "scale": {"domain": ["Control", "Acute", "Convalescent"], "range": ["#000000", "#e8141c", "#1a1ac8"]}, "legend": null}}},
            {"data": {"name": "sum"}, "transform": [{"filter": "datum.p==5"}], "mark": {"type": "rule", "strokeWidth": 2}, "encoding": {"y": {"field": "lo", "type": "quantitative"}, "y2": {"field": "hi"}, "color": {"field": "g", "type": "nominal", "legend": null}}},
            {"data": {"name": "sum"}, "transform": [{"filter": "datum.p==5"}], "mark": {"type": "tick", "thickness": 2, "size": 20}, "encoding": {"y": {"field": "lo", "type": "quantitative"}, "color": {"field": "g", "type": "nominal", "legend": null}}},
            {"data": {"name": "sum"}, "transform": [{"filter": "datum.p==5"}], "mark": {"type": "tick", "thickness": 2, "size": 20}, "encoding": {"y": {"field": "hi", "type": "quantitative"}, "color": {"field": "g", "type": "nominal", "legend": null}}},
            {"data": {"name": "br"}, "transform": [{"filter": "datum.p==5"}], "mark": {"type": "rule", "color": "black", "strokeWidth": 1, "xOffset": 3, "x2Offset": -3}, "encoding": {"x": {"field": "a", "type": "nominal"}, "x2": {"field": "b"}, "y": {"field": "y", "type": "quantitative"}}},
            {"data": {"name": "br"}, "transform": [{"filter": "datum.p==5"}], "mark": {"type": "rule", "color": "black", "strokeWidth": 1, "xOffset": 3, "y2Offset": 4}, "encoding": {"x": {"field": "a", "type": "nominal"}, "y": {"field": "y", "type": "quantitative"}, "y2": {"field": "y"}}},
            {"data": {"name": "br"}, "transform": [{"filter": "datum.p==5"}], "mark": {"type": "rule", "color": "black", "strokeWidth": 1, "xOffset": -3, "y2Offset": 4}, "encoding": {"x": {"field": "b", "type": "nominal"}, "y": {"field": "y", "type": "quantitative"}, "y2": {"field": "y"}}},
            {"data": {"name": "br"}, "transform": [{"filter": "datum.p==5 && datum.k==1"}], "mark": {"type": "text", "fontSize": 9, "baseline": "alphabetic", "dy": 1, "color": "black"}, "encoding": {"x": {"field": "m", "type": "nominal", "bandPosition": 1.235}, "y": {"field": "y", "type": "quantitative"}, "text": {"field": "s"}}}
          ]
        },
        {
          "width": 186, "height": 124,
          "title": {"text": "Granzyme B⁺ Perforin⁺ NK cells", "offset": 24},
          "encoding": {"x": {"field": "g", "type": "nominal", "scale": {"domain": ["Control", "Acute", "Convalescent"], "paddingInner": 0.32, "paddingOuter": 0.17}, "axis": {"title": null}}},
          "layer": [
            {"data": {"name": "sum"}, "transform": [{"filter": "datum.p==6"}], "mark": {"type": "bar", "fill": "white", "strokeWidth": 2}, "encoding": {"y": {"field": "m", "type": "quantitative", "scale": {"domain": [0, 100], "nice": false}, "axis": {"title": "% positive", "values": [0, 20, 40, 60, 80, 100]}}, "stroke": {"field": "g", "type": "nominal", "scale": {"domain": ["Control", "Acute", "Convalescent"], "range": ["#000000", "#e8141c", "#1a1ac8"]}, "legend": null}}},
            {"data": {"name": "pts"}, "transform": [{"filter": "datum.p==6"}], "mark": {"type": "circle", "size": 40, "opacity": 1}, "encoding": {"xOffset": {"field": "c", "type": "quantitative", "scale": {"domain": [-3, 3], "nice": false, "zero": false}}, "y": {"field": "v", "type": "quantitative"}, "color": {"field": "g", "type": "nominal", "scale": {"domain": ["Control", "Acute", "Convalescent"], "range": ["#000000", "#e8141c", "#1a1ac8"]}, "legend": null}}},
            {"data": {"name": "sum"}, "transform": [{"filter": "datum.p==6"}], "mark": {"type": "rule", "strokeWidth": 2}, "encoding": {"y": {"field": "lo", "type": "quantitative"}, "y2": {"field": "hi"}, "color": {"field": "g", "type": "nominal", "legend": null}}},
            {"data": {"name": "sum"}, "transform": [{"filter": "datum.p==6"}], "mark": {"type": "tick", "thickness": 2, "size": 20}, "encoding": {"y": {"field": "lo", "type": "quantitative"}, "color": {"field": "g", "type": "nominal", "legend": null}}},
            {"data": {"name": "sum"}, "transform": [{"filter": "datum.p==6"}], "mark": {"type": "tick", "thickness": 2, "size": 20}, "encoding": {"y": {"field": "hi", "type": "quantitative"}, "color": {"field": "g", "type": "nominal", "legend": null}}},
            {"data": {"name": "br"}, "transform": [{"filter": "datum.p==6"}], "mark": {"type": "rule", "color": "black", "strokeWidth": 1, "xOffset": 3, "x2Offset": -3}, "encoding": {"x": {"field": "a", "type": "nominal"}, "x2": {"field": "b"}, "y": {"field": "y", "type": "quantitative"}}},
            {"data": {"name": "br"}, "transform": [{"filter": "datum.p==6"}], "mark": {"type": "rule", "color": "black", "strokeWidth": 1, "xOffset": 3, "y2Offset": 4}, "encoding": {"x": {"field": "a", "type": "nominal"}, "y": {"field": "y", "type": "quantitative"}, "y2": {"field": "y"}}},
            {"data": {"name": "br"}, "transform": [{"filter": "datum.p==6"}], "mark": {"type": "rule", "color": "black", "strokeWidth": 1, "xOffset": -3, "y2Offset": 4}, "encoding": {"x": {"field": "b", "type": "nominal"}, "y": {"field": "y", "type": "quantitative"}, "y2": {"field": "y"}}},
            {"data": {"name": "br"}, "transform": [{"filter": "datum.p==6 && datum.k==1"}], "mark": {"type": "text", "fontSize": 9, "baseline": "alphabetic", "dy": 1, "color": "black"}, "encoding": {"x": {"field": "m", "type": "nominal", "bandPosition": 1.235}, "y": {"field": "y", "type": "quantitative"}, "text": {"field": "s"}}}
          ]
        }
      ]
    }
  ]
}
